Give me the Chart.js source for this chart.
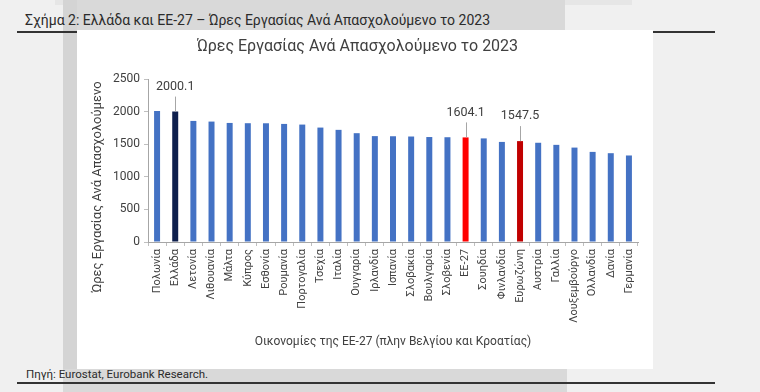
<!DOCTYPE html>
<html><head><meta charset="utf-8">
<script src="https://cdn.jsdelivr.net/npm/chart.js@4.4.0/dist/chart.umd.min.js"></script>
<style>
html,body{margin:0;padding:0;width:760px;height:392px;overflow:hidden;background:#f0f0f0;font-family:Roboto,"Noto Sans",sans-serif;}
.r{position:absolute}
</style></head><body>
<div class="r" style="left:55px;top:0;width:577px;height:5px;background:#e6e6e6"></div>
<div class="r" style="left:63px;top:0;width:502px;height:30px;background:#d9d9d9"></div>
<div class="r" style="left:63px;top:0;width:14px;height:392px;background:#d4d4d4"></div>
<div class="r" style="left:63px;top:369px;width:504px;height:23px;background:#d9d9d9"></div>
<div class="r" style="left:17px;top:31px;width:698px;height:1.5px;background:#333"></div>
<div class="r" style="left:17px;top:382px;width:698px;height:1.5px;background:#333"></div>
<div class="r" style="left:25px;top:12px;font-size:14px;color:#2b2b2b;white-space:nowrap">Σχήμα 2: Ελλάδα και ΕΕ-27 – Ώρες Εργασίας Ανά Απασχολούμενο το 2023</div>
<div class="r" style="left:26px;top:367px;font-size:11.5px;color:#2b2b2b;white-space:nowrap">Πηγή: Eurostat, Eurobank Research.</div>
<div class="r" style="left:77px;top:30px;width:576px;height:339px;background:#fff"><canvas id="c" width="576" height="339"></canvas></div>
<script>
const categories = ['Πολωνία','Ελλάδα','Λετονία','Λιθουανία','Μάλτα','Κύπρος','Εσθονία','Ρουμανία','Πορτογαλία','Τσεχία','Ιταλία','Ουγγαρία','Ιρλανδία','Ισπανία','Σλοβακία','Βουλγαρία','Σλοβενία','ΕΕ-27','Σουηδία','Φινλανδία','Ευρωζώνη','Αυστρία','Γαλλία','Λουξεμβούργο','Ολλανδία','Δανία','Γερμανία'];
const hours = [2010,2000.1,1857,1847,1826,1822,1821,1811,1801,1755,1720,1669,1624,1622,1618,1610,1607,1604.1,1589,1535,1547.5,1522,1490,1448,1382,1362,1327];
const yTicks = [0,500,1000,1500,2000,2500];
const labelled = ['Ελλάδα','ΕΕ-27','Ευρωζώνη'];
const chartTitle = 'Ώρες Εργασίας Ανά Απασχολούμενο το 2023';
const yTitle = 'Ώρες Εργασίας Ανά Απασχολούμενο';
const xTitle = 'Οικονομίες της ΕΕ-27 (πλην Βελγίου και Κροατίας)';

const highlightColor = {'Ελλάδα':'#0e1f4d','ΕΕ-27':'#ff0000','Ευρωζώνη':'#c00000'};
const baseColor = '#4472c4';
const txt = '#404040';

const extras = {
  id:'extras',
  afterDraw(chart){
    const ctx = chart.ctx;
    const meta = chart.getDatasetMeta(0);
    ctx.save();
    labelled.forEach(name=>{
      const i = categories.indexOf(name);
      const el = meta.data[i];
      ctx.strokeStyle = '#a6a6a6'; ctx.lineWidth = 1;
      ctx.beginPath(); ctx.moveTo(Math.round(el.x)+0.5, el.y-15); ctx.lineTo(Math.round(el.x)+0.5, el.y); ctx.stroke();
      ctx.fillStyle = txt; ctx.font = '12.5px Roboto'; ctx.textAlign='center'; ctx.textBaseline='middle';
      ctx.fillText(hours[i].toFixed(1), el.x, el.y-25);
    });
    ctx.translate(21,157); ctx.rotate(-Math.PI/2);
    ctx.font = '13px Roboto'; ctx.fillStyle = txt; ctx.textAlign='center'; ctx.textBaseline='middle';
    ctx.fillText(yTitle,0,0);
    ctx.restore();
  }
};

Chart.defaults.font.family = 'Roboto';
Chart.defaults.color = txt;
new Chart(document.getElementById('c'),{
  type:'bar',
  data:{labels:categories,datasets:[{data:hours,
    backgroundColor:c=>highlightColor[categories[c.dataIndex]]||baseColor,
    categoryPercentage:1,barPercentage:0.33}]},
  options:{
    responsive:false,animation:false,devicePixelRatio:1,
    layout:{padding:{left:0,right:15,top:0,bottom:7}},
    plugins:{legend:{display:false},tooltip:{enabled:false},
      title:{display:true,text:chartTitle,color:txt,font:{size:16,weight:'normal'},padding:{top:7,bottom:22.8}}},
    scales:{
      x:{grid:{drawOnChartArea:false,tickLength:4,color:'#bfbfbf',offset:true},border:{color:'#a6a6a6'},
        ticks:{autoSkip:false,maxRotation:90,minRotation:90,padding:3,font:{size:11},color:txt},
        title:{display:true,text:xTitle,color:txt,font:{size:12},padding:{top:0,bottom:13}},
        afterFit(s){s.height=120;}},
      y:{min:0,max:2500,afterBuildTicks(s){s.ticks=yTicks.map(v=>({value:v}));},
        grid:{drawOnChartArea:false,tickLength:4,color:'#bfbfbf'},border:{color:'#a6a6a6'},
        ticks:{font:{size:12},color:txt,padding:4,callback:v=>String(v)},
        afterFit(s){s.width=71;}}
    }
  },
  plugins:[extras]
});
</script>
</body></html>
